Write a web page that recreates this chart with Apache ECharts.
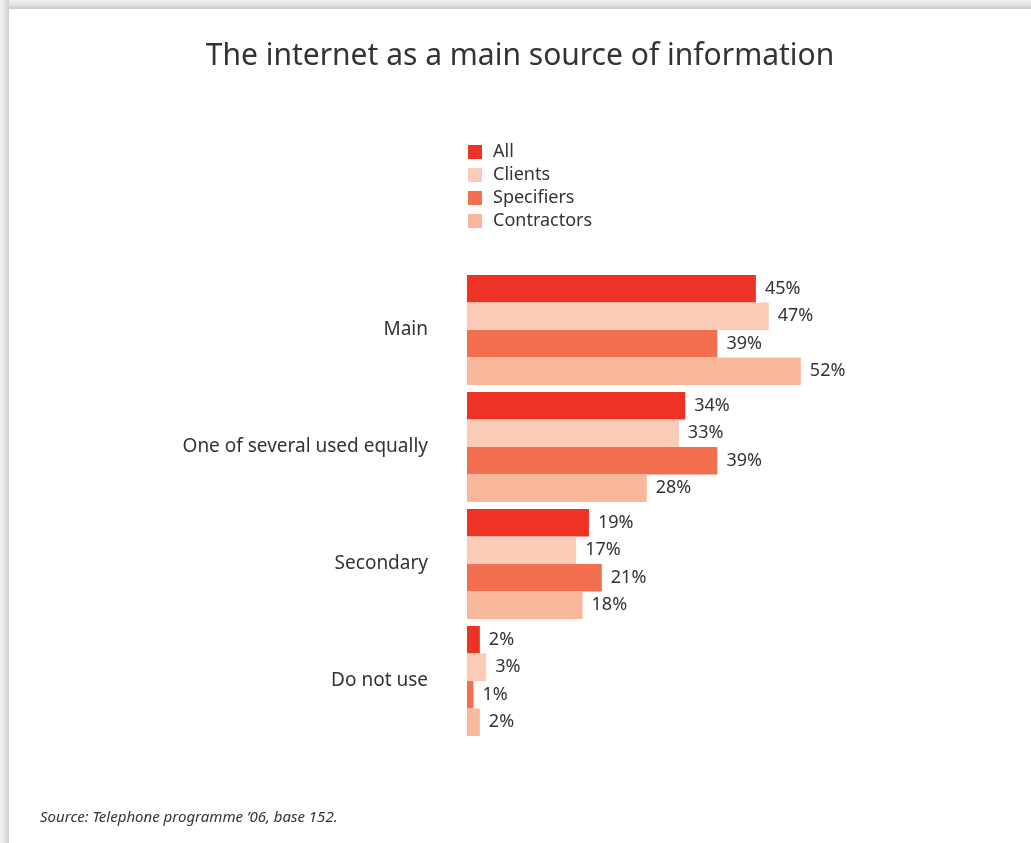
<!DOCTYPE html>
<html>
<head>
<meta charset="utf-8">
<script src="https://cdn.jsdelivr.net/npm/echarts@6/dist/echarts.min.js"></script>
<style>
  html, body { margin: 0; padding: 0; width: 1031px; height: 843px; overflow: hidden; background: #fff; }
  .edge-top { position: absolute; left: 0; top: 0; width: 1031px; height: 9px;
    background: linear-gradient(to bottom, #f2f2f2 0%, #e4e4e4 50%, #c9c9c9 100%); }
  .edge-left { position: absolute; left: 0; top: 0; width: 9px; height: 843px;
    background: linear-gradient(to right, #f2f2f2 0%, #e4e4e4 50%, #cfcfcf 100%); }
  #chart { position: absolute; left: 9px; top: 9px; width: 1022px; height: 834px; background: #fff; }
</style>
</head>
<body>
<div class="edge-top"></div>
<div class="edge-left"></div>
<div id="chart"></div>
<script>
// Answers to "how do you use the internet as a source of information?"
const categories = ['Main', 'One of several used equally', 'Secondary', 'Do not use'];
const seriesNames = ['All', 'Clients', 'Specifiers', 'Contractors'];
const allValues = [45, 34, 19, 2];
const clientValues = [47, 33, 17, 3];
const specifierValues = [39, 39, 21, 1];
const contractorValues = [52, 28, 18, 2];
const seriesColors = ['#EE3325', '#FACBB6', '#F2704F', '#F9B89C'];

const FONT = '"Noto Sans", sans-serif';
const TEXT = '#333333';

const valueSets = [allValues, clientValues, specifierValues, contractorValues];

const chart = echarts.init(document.getElementById('chart'), null, { renderer: 'canvas' });

chart.setOption({
  animation: false,
  backgroundColor: '#ffffff',
  textStyle: { fontFamily: FONT },
  title: [{
    text: 'The internet as a main source of information',
    left: 'center',
    top: 27,
    textStyle: { fontFamily: FONT, fontSize: 30, fontWeight: 'normal', color: TEXT }
  }, {
    text: 'Source: Telephone programme \u201906, base 152.',
    left: 26,
    top: 796,
    textStyle: { fontFamily: FONT, fontSize: 15, fontStyle: 'italic', fontWeight: 'normal', color: TEXT }
  }],
  legend: {
    orient: 'vertical',
    left: 454,
    top: 129,
    itemWidth: 14,
    itemHeight: 14,
    itemGap: 5,
    icon: 'rect',
    data: seriesNames,
    textStyle: { fontFamily: FONT, fontSize: 18, color: TEXT, padding: [0, 0, 0, 6] }
  },
  grid: { left: 458, top: 262.5, width: 449.4, height: 468, containLabel: false },
  xAxis: {
    type: 'value', min: 0, max: 70, show: false
  },
  yAxis: {
    type: 'category',
    data: categories,
    inverse: true,
    axisLine: { show: false },
    axisTick: { show: false },
    axisLabel: { fontFamily: FONT, fontSize: 19, color: TEXT, margin: 39 }
  },
  series: seriesNames.map((name, i) => ({
    name,
    type: 'bar',
    data: valueSets[i],
    barGap: '0%',
    barCategoryGap: '6%',
    itemStyle: { color: seriesColors[i] },
    label: {
      show: true,
      position: 'right',
      distance: 9,
      formatter: '{c}%',
      fontFamily: FONT,
      fontSize: 18,
      color: TEXT
    }
  }))
});
</script>
</body>
</html>
